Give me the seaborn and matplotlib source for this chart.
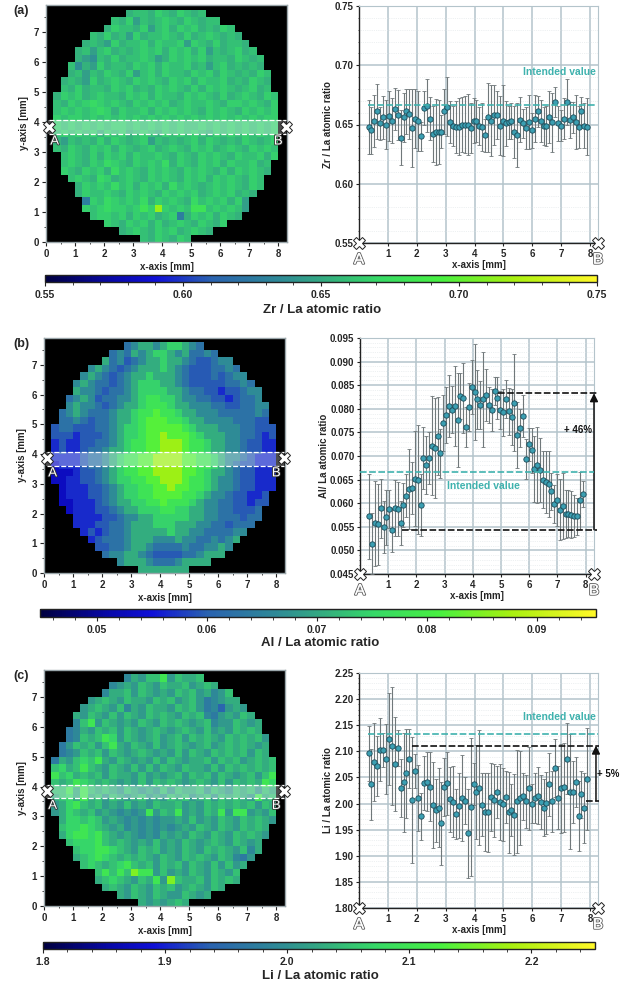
import numpy as np
import matplotlib
matplotlib.use('Agg')
import matplotlib.pyplot as plt
import matplotlib.patheffects as pe
from matplotlib.colors import LinearSegmentedColormap, Normalize
from matplotlib.cm import ScalarMappable
from matplotlib.ticker import MultipleLocator
import seaborn as sns

# scan positions along A-B [mm]
x_mm = np.linspace(0.33, 7.9, 76)

zr_vals = [.648,.645,.653,.661,.651,.656,.650,.657,.653,.663,.658,.639,.656,.661,.659,.647,.655,.653,.640,.664,
           .666,.655,.642,.6435,.644,.644,.661,.665,.652,.649,.648,.648,.650,.650,.650,.647,.653,.653,.649,.648,
           .641,.656,.653,.658,.658,.649,.653,.651,.652,.653,.644,.641,.654,.651,.647,.652,.645,.655,.661,.653,
           .649,.649,.656,.652,.669,.651,.649,.655,.669,.654,.656,.652,.648,.661,.649,.648]
zr_err = [.023,.020,.022,.023,.014,.018,.021,.021,.019,.018,.021,.023,.021,.019,.021,.033,.025,.025,.012,.014,
          .022,.018,.024,.028,.027,.014,.019,.025,.018,.017,.022,.024,.023,.024,.026,.021,.019,.018,.016,.020,
          .014,.029,.030,.025,.020,.025,.030,.019,.014,.015,.022,.027,.019,.012,.018,.023,.015,.020,.013,.018,
          .016,.017,.022,.025,.013,.015,.013,.017,.019,.015,.013,.023,.018,.012,.019,.024]

al_vals = [.0572,.0514,.0557,.0555,.0589,.0549,.0570,.0587,.0543,.0590,.0588,.0558,.0596,.0616,.0630,.0632,.0652,.0650,.0596,.0696,
           .0681,.0695,.0722,.0717,.0742,.0706,.0770,.0787,.0806,.0798,.0806,.0776,.0827,.0823,.0762,.0804,.0846,.0835,.0820,.0808,
           .0820,.0830,.0808,.0798,.0837,.0823,.0798,.0793,.0820,.0795,.0783,.0813,.0745,.0760,.0785,.0693,.0725,.0712,.0672,.0681,
           .0671,.0650,.0645,.0640,.0625,.0598,.0607,.0586,.0594,.0577,.0578,.0576,.0573,.0572,.0606,.0619]
al_err = [.0090,.0065,.0089,.0085,.0063,.0055,.0058,.0040,.0047,.0060,.0057,.0047,.0047,.0045,.0085,.0055,.0100,.0115,.0065,.0065,
          .0062,.0055,.0105,.0105,.0082,.0052,.0060,.0060,.0065,.0050,.0085,.0100,.0048,.0075,.0042,.0050,.0058,.0102,.0062,.0050,
          .0100,.0055,.0038,.0045,.0030,.0045,.0040,.0050,.0040,.0050,.0060,.0103,.0070,.0040,.0045,.0042,.0035,.0048,.0070,.0080,
          .0068,.0060,.0065,.0070,.0040,.0040,.0055,.0065,.0070,.0050,.0050,.0050,.0045,.0040,.0060,.0027]

li_vals = [2.096,2.037,2.080,2.072,2.103,2.103,2.085,2.124,2.111,2.075,2.106,2.030,2.041,2.058,2.086,2.007,2.062,2.010,1.976,2.040,
           2.042,2.032,1.997,1.987,1.992,1.962,2.032,2.039,2.008,2.003,1.980,1.996,2.011,2.005,1.943,1.994,2.037,2.022,2.030,1.998,
           1.984,1.983,2.013,2.006,2.022,2.003,1.999,2.013,1.983,1.987,1.979,2.004,2.011,2.014,2.004,2.029,2.000,2.010,2.015,2.003,
           1.992,2.001,2.037,2.004,2.068,2.011,2.029,2.031,2.086,2.023,2.022,2.041,1.977,2.018,1.991,2.047]
li_err = [.052,.068,.075,.057,.060,.033,.067,.088,.113,.090,.035,.055,.095,.085,.057,.120,.033,.063,.045,.052,
          .057,.066,.082,.060,.076,.080,.055,.060,.062,.068,.047,.062,.082,.045,.085,.132,.040,.090,.110,.060,
          .075,.075,.065,.070,.050,.072,.070,.050,.078,.050,.078,.098,.090,.045,.050,.080,.038,.048,.055,.052,
          .055,.060,.060,.058,.055,.060,.085,.085,.068,.110,.060,.048,.067,.045,.067,.098]

# maps, read by eye on a 0.25 mm grid, top row first; digit = index into the levels list
zr_levels = [.615,.628,.638,.646,.654,.660,.666,.672,.680,.715]
zr_map = ["",
 "45546546545","546354565465455","465546356465645465","546453645565464565454",
 "45436455646556365464554","4535645456564656463545645","43254645565346565645546545",
 "524364554656465564535645454","4535465463564655465646545465","45436456546565465646556454654",
 "54645546564546565464656545645","4656456554656465546565464565465","5465676565465656456556546656546",
 "5656567646556465656546565465656","6566565656565656565656565656566","6565656566565656565565656565656",
 "5656564656456546565654656565656","4354546465456354545646545465456","5465465646545645654656456546565",
 "565464656465565465465654655646","56546576546565746546564655645","65465647565465654656546465654",
 "565476456546565465646565465","46565756465647565456565465","4655654656546565645656454",
 "16576565746565475656463","65676656869656588565653","566564656456146564654","65465646456546546",
 "4565465645654","5465465"]

al_levels = [.053,.0565,.0595,.0625,.0665,.0705,.0745,.078,.082,.087]
al_map = ["",
 "34554566543","343545665453343","534234556554322344","454323455565432223343",
 "45432345565554322232344","4543323456665543222223343","54432334566665543322122344",
 "345423344567766544332212334","4544323455677765544433223344","34543334556778776554443333343",
 "33432334556788877655444433322","2332223345667888887655544433222","2221222345667889888765554433212",
 "1211223345677889998776554432211","1211233455677889998776554432211","1111233456778899998877654432111",
 "0111233456778899998877654322111","0001223456778899998876554322111","0011223456677889998776544322111",
 "011122345667788988776544322111","01112234566778888776544322112","00111234556677877765443322122",
 "011122345566677665544332223","11112234455666665544333233","1112233455566655544332333",
 "12123345555565544333344","123334555444544334345","2233455433334334454","34455432222334555",
 "4555433345555","5555555"]

li_levels = [1.90,1.94,1.97,1.99,2.01,2.03,2.05,2.07,2.10,2.16]
li_map = ["",
 "35466846556","345465465564565","355646545465645346","456546554656456423455",
 "45654635465546564231454","5465464654656546563245465","36846545465465654563446545",
 "235465646545654565464546565","2365687465456456465654656564","24656468546546456545645656545",
 "23465646545654546465465656465","2546768546545464654556465645656","6756865465464646546554646565656",
 "8675656465546454564656465456468","6568765654546465654565464656587","6685865654654546465564654656465",
 "5675856465456454656456465654856","4578656454645465564546565656465","4576564543434846584546584884546",
 "577676454343434454645465465654","67787654534343434546546546565","57887865454343545465465465654",
 "677786565454645465456546545","67788765465645465465654635","5678765656546546565465324",
 "67656786564656465464645","68686988464546546546","56765465849655646565","56546546564565465",
 "5465465446545","5454565"]

a_ticks = [.55,.60,.65,.70,.75]
b_ticks = [.05,.06,.07,.08,.09]
c_ticks = [1.8,1.9,2.0,2.1,2.2]

W, H = 620, 983
cmap = LinearSegmentedColormap.from_list('ratio', [(0, '#000040'), (.12, '#0808a8'), (.2, '#1010d8'), (.3, '#2a62b0'),
                                                  (.42, '#2e8898'), (.5, '#33a882'), (.6, '#36d868'), (.72, '#48f040'),
                                                  (.85, '#a8f010'), (1, '#fff828')])
teal = '#3fb2ae'
grid_c = '#b4c4cb'

sns.set_theme(style='white')
plt.rcParams['font.family'] = ['Liberation Sans', 'DejaVu Sans']
plt.rcParams['font.weight'] = 'bold'
plt.rcParams['axes.labelweight'] = 'bold'
plt.rcParams['axes.linewidth'] = 0.8

fig = plt.figure(figsize=(W / 100, H / 100), dpi=100)


def px_axes(l, t, r, b):
    return fig.add_axes([l / W, 1 - b / H, (r - l) / W, (b - t) / H])


def cross(ax, x, y):
    ax.plot([x], [y], marker='X', ms=9, mfc='white', mec='#222222', mew=0.7, clip_on=False, zorder=6)


def map_panel(box, rows, levels, cx, tag):
    ax = px_axes(*box)
    cell = 0.25
    arr = [[levels[int(c)] if c != '.' else np.nan for c in r.center(33, '.')] for r in rows[::-1]]
    arr = np.array(arr)
    sns.heatmap(arr, mask=np.isnan(arr), cmap=cmap, vmin=cx[0], vmax=cx[1], cbar=False,
                ax=ax, xticklabels=False, yticklabels=False)
    ax.set_facecolor('black')
    ax.set_xlim(0, 8.3 / cell)
    ax.set_ylim(0, 7.9 / cell)
    ax.set_xticks([k / cell for k in range(9)], [str(k) for k in range(9)])
    ax.set_yticks([k / cell for k in range(8)], [str(k) for k in range(8)])
    ax.set_xticks([(k + .5) / cell for k in range(8)], minor=True)
    ax.set_yticks([(k + .5) / cell for k in range(8)], minor=True)
    ax.tick_params(which='major', length=3, width=.8, labelsize=7, pad=2, bottom=True, left=True, color='#222222')
    ax.tick_params(which='minor', length=1.5, width=.6, bottom=True, left=True, color='#222222')
    for s in ax.spines.values():
        s.set_visible(True)
        s.set_color('#9aa6aa')
        s.set_linewidth(1)
    ax.set_xlabel('x-axis [mm]', fontsize=7, labelpad=2)
    ax.set_ylabel('y-axis [mm]', fontsize=7, labelpad=3)
    # scan band A-B
    ax.axhspan(3.6 / cell, 4.06 / cell, xmin=0.01, xmax=0.995, color='white', alpha=.3, lw=0)
    for yy in (3.6, 4.06):
        ax.plot([.1 / cell, 8.25 / cell], [yy / cell, yy / cell], color='white', ls=(0, (4, 1.5)), lw=.9)
    cross(ax, .1 / cell, 3.85 / cell)
    cross(ax, 8.25 / cell, 3.85 / cell)
    halo = [pe.withStroke(linewidth=1.2, foreground='#333333')]
    ax.text(.3 / cell, 3.35 / cell, 'A', color='white', fontsize=9.5, fontweight='normal',
            ha='center', va='center', path_effects=halo)
    ax.text(8.0 / cell, 3.35 / cell, 'B', color='white', fontsize=9.5, fontweight='normal',
            ha='center', va='center', path_effects=halo)
    fig.text(13 / W, 1 - (box[1] + 6) / H, tag, fontsize=9, ha='left', va='center')


def scan_panel(box, vals, err, ylim, major, minor, ylabel, fmt, xright):
    ax = px_axes(*box)
    ax.set_xlim(0, xright)
    ax.set_ylim(*ylim)
    ax.set_xticks(range(1, 9))
    ax.yaxis.set_major_locator(MultipleLocator(major))
    ax.yaxis.set_minor_locator(MultipleLocator(minor))
    ax.yaxis.set_major_formatter(fmt)
    ax.grid(True, which='major', color=grid_c, lw=1.1)
    ax.grid(True, which='minor', axis='y', color='#dde3e6', lw=.5, ls=':')
    ax.set_axisbelow(True)
    ax.errorbar(x_mm, vals, yerr=err, fmt='none', ecolor='#70787a', elinewidth=.8, capsize=1.5, capthick=.6, zorder=3)
    sns.scatterplot(x=x_mm, y=vals, ax=ax, s=15, color='#3b9fb2', edgecolor='#1c4a58', linewidth=.6, zorder=4, clip_on=False)
    for k in ('top', 'right'):
        ax.spines[k].set_color(grid_c)
    for k in ('left', 'bottom'):
        ax.spines[k].set_color('#222222')
        ax.spines[k].set_linewidth(1)
    ax.tick_params(which='major', length=2, width=.8, labelsize=7, pad=2, left=True, bottom=True, color='#222222')
    ax.tick_params(which='minor', length=1, width=.5, left=True, color='#222222')
    ax.set_xlabel('x-axis [mm]', fontsize=7, labelpad=1)
    ax.set_ylabel(ylabel, fontsize=7, labelpad=1)
    cross(ax, 0, ylim[0])
    cross(ax, xright, ylim[0])
    outline = [pe.withStroke(linewidth=1.5, foreground='#666666'), pe.Normal()]
    for xx, s in ((0, 'A'), (xright, 'B')):
        ax.annotate(s, (xx, ylim[0]), xytext=(0, -12), textcoords='offset points', color='white',
                    fontsize=11, fontweight='normal', ha='center', va='center', path_effects=outline,
                    annotation_clip=False)
    return ax


def color_bar(box, lim, ticks, minor, fmt, title, title_x, title_y):
    cax = px_axes(*box)
    cb = fig.colorbar(ScalarMappable(Normalize(*lim), cmap), cax=cax, orientation='horizontal')
    cb.set_ticks(ticks)
    cb.ax.set_xticklabels([fmt % t for t in ticks])
    cax.xaxis.set_minor_locator(MultipleLocator(minor))
    cax.tick_params(which='major', length=3, width=.8, labelsize=7.5, pad=3, bottom=True, color='#222222')
    cax.tick_params(which='minor', length=2, width=.6, bottom=True, color='#222222')
    cb.outline.set_edgecolor('#222222')
    cb.outline.set_linewidth(1)
    fig.text(title_x / W, 1 - title_y / H, title, fontsize=9.5, ha='center', va='center')


def dashes(ax, x0, x1, y, color='#111111'):
    ax.plot([x0, x1], [y, y], color=color, ls=(0, (4, 1.5)), lw=1.2, clip_on=False, zorder=5)


# (a)
map_panel((46, 5, 287, 242), zr_map, zr_levels, (.55, .75), '(a)')
ax = scan_panel((359, 6, 598, 243), zr_vals, zr_err, (.55, .75), .05, .01, 'Zr / La atomic ratio', '{x:.2f}', 8.27)
dashes(ax, 0.3, 8.2, .6667, teal)
ax.text(6.95, .6945, 'Intended value', color=teal, fontsize=7.5, ha='center', va='center')
color_bar((45, 275, 597, 282), (.55, .75), a_ticks, .01, '%.2f', 'Zr / La atomic ratio', 322, 310)

# (b)
map_panel((44, 338, 285, 573), al_map, al_levels, (.0448, .0954), '(b)')
ax = scan_panel((360, 338, 594, 574), al_vals, al_err, (.045, .095), .005, .001, 'Al/ La atomic ratio', '{x:.3f}', 8.3)
dashes(ax, 0, 8.3, .0667, teal)
dashes(ax, 4.9, 8.4, .0833)
dashes(ax, 1.5, 8.4, .0544)
ax.annotate('', (8.3, .0833), (8.3, .0544), arrowprops=dict(arrowstyle='-|>', color='#111111', lw=1.1, shrinkA=0, shrinkB=0), annotation_clip=False)
ax.text(4.37, .0637, 'Intended value', color=teal, fontsize=7.5, ha='center', va='center')
ax.text(7.75, .0755, '+ 46%', fontsize=7, ha='center', va='center', color='#111111')
color_bar((40, 609, 596, 617), (.0448, .0954), b_ticks, .002, '%.2f', 'Al / La atomic ratio', 320, 643)

# (c)
map_panel((44, 670, 285, 906), li_map, li_levels, (1.8, 2.252), '(c)')
ax = scan_panel((359, 673, 598, 908), li_vals, li_err, (1.8, 2.25), .05, .01, 'Li / La atomic ratio', '{x:.2f}', 8.27)
dashes(ax, 0.3, 8.27, 2.133, teal)
dashes(ax, 1.85, 8.3, 2.111)
dashes(ax, 7.85, 8.3, 2.005)
ax.annotate('', (8.2, 2.111), (8.2, 2.005), arrowprops=dict(arrowstyle='-|>', color='#111111', lw=1.1, shrinkA=0, shrinkB=0), annotation_clip=False)
ax.text(6.95, 2.166, 'Intended value', color=teal, fontsize=7.5, ha='center', va='center')
ax.text(8.62, 2.057, '+ 5%', fontsize=7, ha='center', va='center', color='#111111', clip_on=False)
color_bar((43, 942, 595, 949), (1.8, 2.252), c_ticks, .02, '%.1f', 'Li / La atomic ratio', 320, 976)

fig.savefig('out.png', dpi=100)
